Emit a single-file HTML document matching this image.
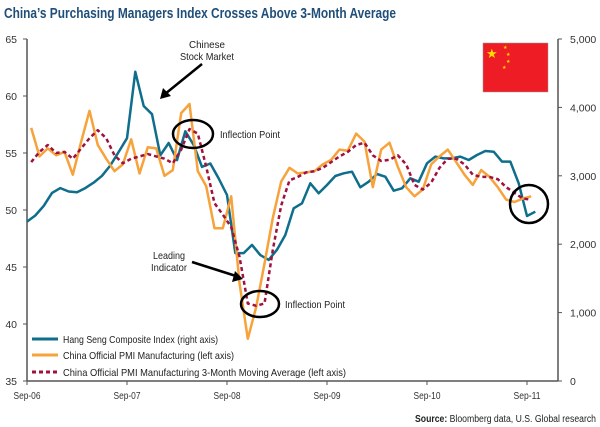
<!DOCTYPE html>
<html><head><meta charset="utf-8"><style>
body{margin:0;background:#fff;width:600px;height:427px;overflow:hidden}
svg{display:block;font-family:"Liberation Sans",sans-serif}
</style></head><body>
<svg id="c" width="600" height="427">
<text x="4" y="18" font-size="14.5" font-weight="bold" fill="#1f4e79" textLength="392" lengthAdjust="spacingAndGlyphs">China’s Purchasing Managers Index Crosses Above 3-Month Average</text>
<g>
<rect x="483" y="43" width="65" height="49" fill="#ee1c25" stroke="#999" stroke-width="0.5"/>
<text x="486" y="58" font-size="13" fill="#ffde00">★</text>
<text x="503" y="49" font-size="5" fill="#ffde00">★</text>
<text x="506" y="56" font-size="5" fill="#ffde00">★</text>
<text x="506" y="63" font-size="5" fill="#ffde00">★</text>
<text x="502" y="69" font-size="5" fill="#ffde00">★</text>
</g>
<g id="axes"></g>
<g id="series"></g>
<g font-size="10.5" fill="#222">
<text x="207" y="48" text-anchor="middle" textLength="36" lengthAdjust="spacingAndGlyphs">Chinese</text>
<text x="207" y="60" text-anchor="middle" textLength="54" lengthAdjust="spacingAndGlyphs">Stock Market</text>
<line x1="202" y1="64" x2="165" y2="94" stroke="#000" stroke-width="2.5"/>
<polygon points="160,99 163,88 171,96" fill="#000"/>
<ellipse cx="193" cy="134" rx="20" ry="14" fill="none" stroke="#000" stroke-width="2.5"/>
<text x="220" y="138" textLength="60" lengthAdjust="spacingAndGlyphs">Inflection Point</text>
<text x="169" y="259" text-anchor="middle" textLength="32" lengthAdjust="spacingAndGlyphs">Leading</text>
<text x="169" y="271" text-anchor="middle" textLength="36" lengthAdjust="spacingAndGlyphs">Indicator</text>
<line x1="192" y1="262" x2="236" y2="276" stroke="#000" stroke-width="2.5"/>
<polygon points="243,279 232,282 235,271" fill="#000"/>
<ellipse cx="260" cy="304" rx="19" ry="13" fill="none" stroke="#000" stroke-width="2.5"/>
<text x="285" y="308" textLength="60" lengthAdjust="spacingAndGlyphs">Inflection Point</text>
<circle cx="529" cy="204" r="19" fill="none" stroke="#000" stroke-width="2.5"/>
</g>
<g font-size="10.5" fill="#222">
<line x1="32" y1="339" x2="58" y2="339" stroke="#0e6e8c" stroke-width="3"/>
<text x="63" y="343" textLength="155" lengthAdjust="spacingAndGlyphs">Hang Seng Composite Index (right axis)</text>
<line x1="32" y1="355" x2="58" y2="355" stroke="#f7a23b" stroke-width="3"/>
<text x="63" y="359" textLength="171" lengthAdjust="spacingAndGlyphs">China Official PMI Manufacturing (left axis)</text>
<line x1="32" y1="372" x2="58" y2="372" stroke="#a0123e" stroke-width="3" stroke-dasharray="4,3"/>
<text x="63" y="376" textLength="283" lengthAdjust="spacingAndGlyphs">China Official PMI Manufacturing 3-Month Moving Average (left axis)</text>
</g>
<text x="596" y="422" font-size="10" text-anchor="end" fill="#222" textLength="181" lengthAdjust="spacingAndGlyphs"><tspan font-weight="bold">Source:</tspan> Bloomberg data, U.S. Global research</text>
</svg>
<script>
const xTickLabels=["Sep-06","Sep-07","Sep-08","Sep-09","Sep-10","Sep-11"];
const leftTicks=[35,40,45,50,55,60,65];
const rightTicks=[0,1000,2000,3000,4000,5000];
const rightTickLabels=["0","1,000","2,000","3,000","4,000","5,000"];
const hangSeng=[2330,2420,2560,2750,2820,2770,2760,2820,2900,3000,3150,3350,3550,4520,4020,3900,3300,3480,3230,3650,3450,3130,3180,2960,2720,1870,1870,1990,1840,1770,1920,2134,2525,2598,2890,2744,2865,2997,3036,3060,2832,2914,3026,2987,2782,2817,2963,2914,3183,3280,3255,3255,3280,3231,3304,3363,3353,3207,3207,2890,2412,2475];
const pmi=[57.2,54.7,55.4,54.8,55.1,53.1,56.0,58.7,55.7,54.5,53.4,54.0,56.2,53.2,55.5,55.4,53.0,53.5,58.5,59.3,53.4,52.1,48.4,48.4,51.2,43.6,38.7,41.5,45.3,49.3,52.5,53.7,53.2,53.3,53.4,54.0,54.4,55.3,55.2,56.7,56.0,52.0,55.3,55.9,53.8,52.0,51.2,51.8,54.0,54.7,55.3,54.2,53.1,52.2,53.5,52.9,52.0,50.9,50.7,51.0,51.2];
const pmiMA=[54.2,55.1,55.7,55.0,55.1,54.5,55.4,56.3,57.0,56.3,54.8,54.1,54.5,54.7,54.9,54.7,54.5,54.1,55.3,57.1,56.7,53.8,50.6,49.6,48.5,45.9,41.8,41.6,41.8,46.5,50.4,52.6,52.9,53.3,53.4,53.7,54.2,54.7,55.1,55.7,55.9,54.8,54.3,54.4,54.8,54.0,52.2,51.8,52.4,53.7,54.5,54.5,54.0,53.1,52.9,52.9,52.7,52.0,51.5,51.0,50.9];
const pmiStartMonth=0.5;
const X0=27,PXM=100/12,YB=381,YT=39;
const xs=m=>X0+m*PXM;
const yL=v=>YB-(v-35)/30*(YB-YT);
const yR=v=>YB-v/5000*(YB-YT);
const NS="http://www.w3.org/2000/svg";
function mk(p,t,a){const e=document.createElementNS(NS,t);for(const k in a)e.setAttribute(k,a[k]);p.appendChild(e);return e;}
const ax=document.getElementById('axes'),se=document.getElementById('series');
let e=mk(ax,'line',{x1:X0,y1:YT,x2:X0,y2:YB,stroke:'#555','stroke-width':1.5});


e=mk(ax,'line',{x1:558,y1:YT,x2:558,y2:YB,stroke:'#555','stroke-width':1.5});


e=mk(ax,'line',{x1:X0,y1:YB,x2:558,y2:YB,stroke:'#555','stroke-width':1.5});


leftTicks.forEach(v=>{const y=yL(v);mk(ax,'line',{x1:X0-4,y1:y,x2:X0,y2:y,stroke:'#555'});
const t=mk(ax,'text',{x:17,y:y+4,'font-size':10.5,'text-anchor':'end',fill:'#333'});t.textContent=v;

});
rightTicks.forEach((v,i)=>{const y=yR(v);mk(ax,'line',{x1:558,y1:y,x2:562,y2:y,stroke:'#555'});
const t=mk(ax,'text',{x:570,y:y+4,'font-size':10.5,fill:'#333'});t.textContent=rightTickLabels[i];

});
xTickLabels.forEach((l,i)=>{const x=xs(i*12);mk(ax,'line',{x1:x,y1:YB,x2:x,y2:YB+4,stroke:'#555'});
const t=mk(ax,'text',{x:x,y:YB+18,'font-size':10.5,'text-anchor':'middle',fill:'#333',textLength:27,lengthAdjust:'spacingAndGlyphs'});t.textContent=l;

});
function line(vals,off,yf,attrs,name){const d=vals.map((v,i)=>(i?'L':'M')+xs(i+off).toFixed(1)+','+yf(v).toFixed(1)).join('');
const p=mk(se,'path',Object.assign({d:d,fill:'none','stroke-linejoin':'round'},attrs));

}
line(hangSeng,0,yR,{stroke:'#0e6e8c','stroke-width':2.5},'hang-seng-line');
line(pmi,pmiStartMonth,yL,{stroke:'#f7a23b','stroke-width':2.5},'pmi-line');
line(pmiMA,pmiStartMonth,yL,{stroke:'#a0123e','stroke-width':2.5,'stroke-dasharray':'4,3'},'pmi-ma-line');
</script>
</body></html>
